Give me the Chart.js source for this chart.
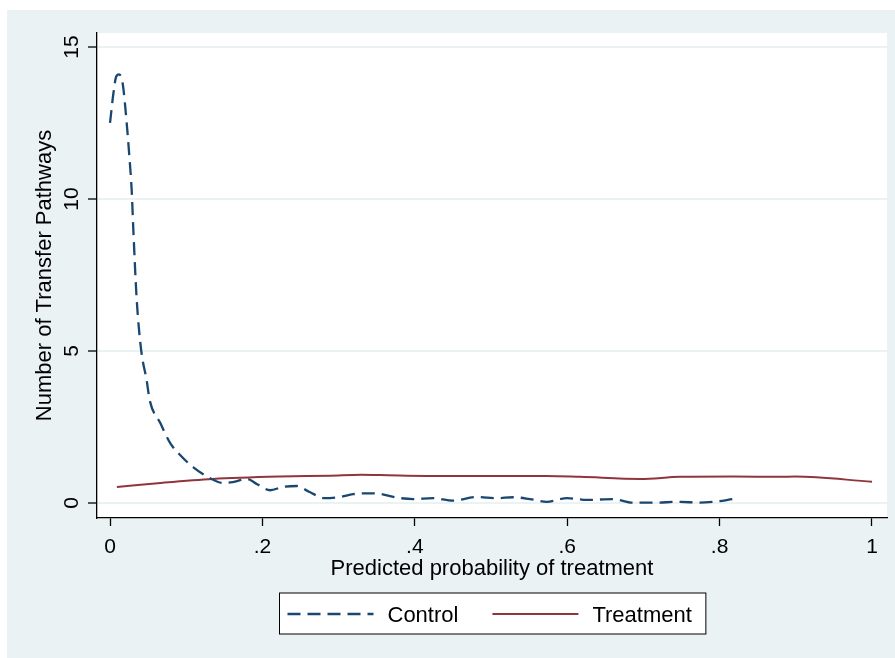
<!DOCTYPE html>
<html>
<head>
<meta charset="utf-8">
<title>Predicted probability of treatment</title>
<script src="https://cdn.jsdelivr.net/npm/chart.js"></script>
<style>
  body { margin: 0; background: #ffffff; }
  #ramka { position: absolute; left: 7px; top: 10px; width: 888px; height: 648px; background: #eaf2f3; }
</style>
</head>
<body>
<div id="ramka">
  <canvas id="wykres" width="888" height="648"></canvas>
</div>
<script>
// dane
const controlX = [0, 0.0044, 0.008, 0.0118, 0.0166, 0.0219, 0.0254, 0.0284, 0.0306, 0.035, 0.041, 0.048, 0.052,
  0.066, 0.079, 0.092, 0.109, 0.131, 0.148, 0.161, 0.18, 0.193, 0.21, 0.227, 0.245, 0.262, 0.282, 0.302, 0.319,
  0.345, 0.381, 0.398, 0.424, 0.45, 0.481, 0.508, 0.529, 0.551, 0.573, 0.6, 0.626, 0.66, 0.686, 0.713, 0.748,
  0.774, 0.792, 0.818];
const controlY = [12.5, 13.47, 14.02, 14.1, 13.8, 12.49, 11.39, 10.3, 8.98, 6.7, 5.0, 4.05, 3.39,
  2.63, 1.97, 1.58, 1.18, 0.82, 0.66, 0.69, 0.79, 0.62, 0.42, 0.53, 0.56, 0.36, 0.16, 0.2, 0.29,
  0.32, 0.16, 0.13, 0.16, 0.08, 0.2, 0.16, 0.19, 0.13, 0.04, 0.16, 0.1, 0.13, 0.01, 0.01, 0.04,
  0.01, 0.04, 0.13];
const treatX = [0.009, 0.07, 0.135, 0.223, 0.289, 0.33, 0.354, 0.442, 0.573, 0.617, 0.696, 0.748, 0.818, 0.879, 0.899, 1.0];
const treatY = [0.53, 0.67, 0.79, 0.87, 0.9, 0.93, 0.92, 0.89, 0.89, 0.86, 0.79, 0.86, 0.87, 0.86, 0.87, 0.7];

const xTicks = [0, 0.2, 0.4, 0.6, 0.8, 1];
const xTickLabels = ['0', '.2', '.4', '.6', '.8', '1'];
const yTicks = [0, 5, 10, 15];
const yTickLabels = ['0', '5', '10', '15'];

const czcionka = "'Liberation Sans', Arial, Helvetica, sans-serif";

// tlo obszaru wykresu
const tloPlugin = {
  id: 'tlo',
  beforeDraw(chart) {
    const a = chart.chartArea;
    const ctx = chart.ctx;
    ctx.save();
    ctx.fillStyle = '#ffffff';
    ctx.fillRect(a.left, a.top, a.right - a.left, a.bottom - a.top);
    ctx.restore();
  }
};

// obrocone etykiety osi Y (jak w Stata)
const etykietyYPlugin = {
  id: 'etykietyY',
  afterDraw(chart) {
    const sc = chart.scales.y;
    const ctx = chart.ctx;
    ctx.save();
    ctx.fillStyle = '#000';
    ctx.font = '21px ' + czcionka;
    ctx.textAlign = 'center';
    ctx.textBaseline = 'alphabetic';
    yTicks.forEach((v, i) => {
      ctx.save();
      ctx.translate(sc.left + 71, sc.getPixelForValue(v));
      ctx.rotate(-Math.PI / 2);
      ctx.fillText(yTickLabels[i], 0, 0);
      ctx.restore();
    });
    ctx.restore();
  }
};

// legenda w ramce pod wykresem
const legendaPlugin = {
  id: 'legendaRamka',
  afterDraw(chart) {
    const ctx = chart.ctx;
    const a = chart.chartArea;
    ctx.save();
    ctx.font = '22px ' + czcionka;
    const sets = chart.data.datasets;
    const lineLen = 86, gap = 14, itemGap = 34, padL = 8, padR = 14;
    let total = padL + padR;
    sets.forEach((d, i) => {
      total += lineLen + gap + ctx.measureText(d.label).width;
      if (i > 0) total += itemGap;
    });
    const cx = (a.left + a.right) / 2;
    const top = chart.scales.x.bottom + 1;
    const h = 41;
    let x = Math.round(cx - total / 2) + 0.5;
    ctx.fillStyle = '#ffffff';
    ctx.fillRect(x, top, total, h);
    ctx.strokeStyle = '#000';
    ctx.lineWidth = 1;
    ctx.strokeRect(x, top, total, h);
    const my = top + 21;
    x += padL;
    sets.forEach((d, i) => {
      if (i > 0) x += itemGap;
      ctx.beginPath();
      ctx.setLineDash(d.borderDash || []);
      ctx.strokeStyle = d.borderColor;
      ctx.lineWidth = d.borderWidth;
      ctx.moveTo(x, my);
      ctx.lineTo(x + lineLen, my);
      ctx.stroke();
      ctx.setLineDash([]);
      x += lineLen + gap;
      ctx.fillStyle = '#000';
      ctx.textBaseline = 'alphabetic';
      ctx.textAlign = 'left';
      ctx.fillText(d.label, x, my + 8);
      x += ctx.measureText(d.label).width;
    });
    ctx.restore();
  }
};

const ctx = document.getElementById('wykres').getContext('2d');
new Chart(ctx, {
  type: 'line',
  data: {
    datasets: [{
      label: 'Control',
      data: controlX.map((x, i) => ({x: x, y: controlY[i]})),
      borderColor: '#1a476f',
      borderWidth: 2.3,
      borderDash: [13, 7],
      pointRadius: 0,
      fill: false,
      cubicInterpolationMode: 'monotone'
    }, {
      label: 'Treatment',
      data: treatX.map((x, i) => ({x: x, y: treatY[i]})),
      borderColor: '#90353b',
      borderWidth: 2,
      pointRadius: 0,
      fill: false,
      cubicInterpolationMode: 'monotone'
    }]
  },
  options: {
    responsive: false,
    animation: false,
    layout: { padding: { left: 0, right: 8, top: 23, bottom: 66 } },
    plugins: {
      legend: { display: false },
      tooltip: { enabled: false }
    },
    scales: {
      x: {
        type: 'linear',
        min: -0.0171,
        max: 1.0197,
        afterBuildTicks: s => { s.ticks = xTicks.map(v => ({value: v})); },
        afterFit: s => { s.height = 74; },
        grid: { drawOnChartArea: false, tickColor: '#000', tickLength: 8, tickWidth: 1.3 },
        border: { color: '#000', width: 1.3 },
        ticks: {
          color: '#000',
          font: { family: czcionka, size: 21 },
          padding: 9,
          maxRotation: 0,
          autoSkip: false,
          callback: (v, i) => xTickLabels[i]
        },
        title: {
          display: true,
          text: 'Predicted probability of treatment',
          color: '#000',
          font: { family: czcionka, size: 22 },
          padding: { top: 0, bottom: 10 }
        }
      },
      y: {
        type: 'linear',
        min: -0.493,
        max: 15.46,
        afterBuildTicks: s => { s.ticks = yTicks.map(v => ({value: v})); },
        afterFit: s => { s.width = 90; },
        grid: { color: '#eaf2f3', lineWidth: 2, tickColor: '#000', tickLength: 9, tickWidth: 1.3 },
        border: { color: '#000', width: 1.3 },
        ticks: { display: false },
        title: {
          display: true,
          text: 'Number of Transfer Pathways',
          color: '#000',
          font: { family: czcionka, size: 22 },
          padding: { top: 25, bottom: 0 }
        }
      }
    }
  },
  plugins: [tloPlugin, etykietyYPlugin, legendaPlugin]
});
</script>
</body>
</html>
